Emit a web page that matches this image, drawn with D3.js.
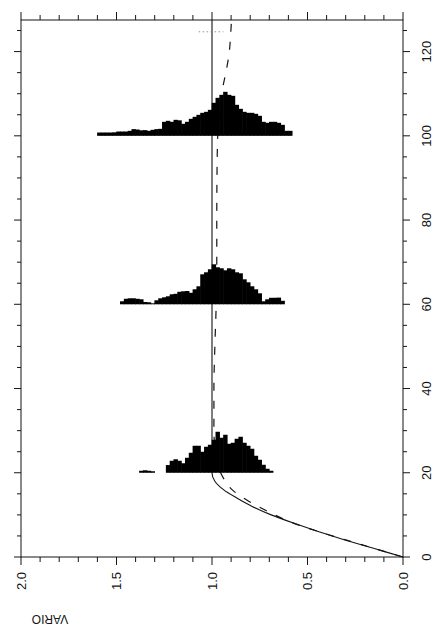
<!DOCTYPE html>
<html><head><meta charset="utf-8">
<script src="https://cdn.jsdelivr.net/npm/d3@7"></script>
<style>body{margin:0;background:#fff}svg{display:block}</style>
</head><body>
<svg id="c" width="445" height="629"></svg>
<script>
// ---- data ----
const lagTicks = [0, 20, 40, 60, 80, 100, 120];
const lagTickLabels = ["0", "20", "40", "60", "80", "100", "120"];
const varioTicks = [0.0, 0.5, 1.0, 1.5, 2.0];
const varioTickLabels = ["0.0", "0.5", "1.0", "1.5", "2.0"];

// model variogram (solid)
const modelLag   = [0, 2, 4, 6, 8, 10, 12, 14, 16, 18, 20, 127.5];
const modelVario = [0, 0.15, 0.30, 0.44, 0.57, 0.69, 0.79, 0.87, 0.94, 0.985, 1.0, 1.0];

// average / second curve (dashed)
const meanLag   = [0, 2, 4, 6, 7.1, 9, 11, 13.3, 16, 18, 20, 23, 26, 30, 40, 50, 60, 70, 80, 90, 100, 105, 110.7, 114.5, 119.3, 124.3, 127.5];
const meanVario = [0, 0.148, 0.295, 0.44, 0.515, 0.625, 0.715, 0.81, 0.895, 0.93, 0.955, 0.975, 0.985, 0.99, 0.99, 0.985, 0.978, 0.975, 0.975, 0.974, 0.97, 0.962, 0.947, 0.93, 0.911, 0.902, 0.898];

// short dotted mark near the top
const dotLag = 124.7;
const dotVario = [1.07, 0.94];

// histograms of variogram values at three lags (bin width 0.02, counts from low to high vario)
const histBinWidth = 0.02;
const hist20Lag = 20, hist20Start = 0.68;
const hist20Counts = [2, 4, 8, 13, 17, 24, 27, 30, 36, 34, 30, 29, 38, 35, 41, 33, 28, 26, 21, 27, 27, 20, 15, 9.5, 12, 13.5, 12, 7.7, 0, 0, 0, 1.5, 2, 2.5, 2];
const hist60Lag = 60, hist60Start = 0.62;
const hist60Counts = [3.5, 6.7, 6.5, 6.5, 5, 3, 11, 15, 18, 22, 25, 31, 32, 35, 36, 34, 36, 37, 40, 35, 32, 30, 18, 15, 11.5, 13.3, 13, 12.5, 10.5, 10, 8, 7, 6, 4, 1, 2, 2.3, 5, 5.5, 6, 6, 5.5, 3];
const hist100Lag = 100, hist100Start = 0.58;
const hist100Counts = [5, 5, 11, 13, 14, 14, 13, 14, 20, 22, 23, 23, 24, 27, 31, 40, 41, 44, 41, 38, 33, 26, 24, 23, 21, 19, 17, 14, 12, 15.5, 16, 14, 15, 14, 7, 6.7, 6, 5, 5.7, 5.5, 6.3, 6.7, 5, 4.3, 4.3, 4.3, 3.5, 3.3, 3.3, 3.3, 3.3];

// ---- drawing (chart drawn in normal orientation, then page rotated 90° CCW) ----
const W = 629, H = 445;
const svg = d3.select("#c");
const g = svg.append("g").attr("transform", `translate(0,${629}) rotate(-90)`);

const x = d3.scaleLinear().domain([0, 127.5]).range([72, 609]);   // lag
const y = d3.scaleLinear().domain([0, 2]).range([403, 21]);       // vario
const freq = d3.scaleLinear().domain([0, 50]).range([0, 50 / 4.212]); // count -> lag units

const ink = "#151515";
const font = "'Liberation Sans', Arial, sans-serif";

// frame
g.append("rect").attr("x", x(0)).attr("y", y(2)).attr("width", x(127.5) - x(0)).attr("height", y(0) - y(2))
  .attr("fill", "none").attr("stroke", ink).attr("stroke-width", 1);

// lag ticks (bottom & top of original frame)
const lagMinor = d3.range(0, 126, 5);
lagMinor.forEach(t => {
  const len = (t % 20 === 0) ? 7 : 4;
  g.append("line").attr("x1", x(t)).attr("x2", x(t)).attr("y1", y(0)).attr("y2", y(0) + len).attr("stroke", ink);
  g.append("line").attr("x1", x(t)).attr("x2", x(t)).attr("y1", y(2)).attr("y2", y(2) - len).attr("stroke", ink);
});
// vario ticks (left & right)
const varMinor = d3.range(0, 20.5, 1).map(k => k / 10);
varMinor.forEach((t, i) => {
  const len = (i % 5 === 0) ? 8 : 5;
  g.append("line").attr("y1", y(t)).attr("y2", y(t)).attr("x1", x(0)).attr("x2", x(0) - len).attr("stroke", ink);
  g.append("line").attr("y1", y(t)).attr("y2", y(t)).attr("x1", x(127.5)).attr("x2", x(127.5) + len).attr("stroke", ink);
});

// tick labels
g.selectAll("text.lag").data(lagTicks).enter().append("text")
  .attr("x", d => x(d)).attr("y", 431).attr("text-anchor", "middle")
  .attr("font-family", font).attr("font-size", 13).attr("fill", ink)
  .text((d, i) => lagTickLabels[i]);
g.selectAll("text.var").data(varioTicks).enter().append("text")
  .attr("x", 57).attr("y", d => y(d) + 4.6).attr("text-anchor", "end")
  .attr("font-family", font).attr("font-size", 13).attr("fill", ink)
  .text((d, i) => varioTickLabels[i]);

// axis title
g.append("text").attr("transform", "translate(14,50) rotate(-90)")
  .attr("text-anchor", "middle").attr("font-family", font).attr("font-size", 12).attr("fill", ink)
  .text("VARIO");

// curves
const line = d3.line().x(d => x(d[0])).y(d => y(d[1])).curve(d3.curveMonotoneX);
g.append("path").attr("d", line(modelLag.map((h, i) => [h, modelVario[i]])))
  .attr("fill", "none").attr("stroke", ink).attr("stroke-width", 1.1);
g.append("path").attr("d", line(meanLag.map((h, i) => [h, meanVario[i]])))
  .attr("fill", "none").attr("stroke", ink).attr("stroke-width", 1.2).attr("stroke-dasharray", "8,10");
g.append("line").attr("x1", x(dotLag)).attr("x2", x(dotLag)).attr("y1", y(dotVario[0])).attr("y2", y(dotVario[1]))
  .attr("stroke", "#777").attr("stroke-width", 0.8).attr("stroke-dasharray", "1.5,2.5");

// histograms
function drawHist(lag, start, counts) {
  counts.forEach((c, i) => {
    if (c <= 0) return;
    const g0 = start + i * histBinWidth, g1 = g0 + histBinWidth;
    g.append("rect")
      .attr("x", x(lag)).attr("width", x(lag + freq(c)) - x(lag))
      .attr("y", y(g1) - 0.3).attr("height", y(g0) - y(g1) + 0.6)
      .attr("fill", "#000");
  });
}
drawHist(hist20Lag, hist20Start, hist20Counts);
drawHist(hist60Lag, hist60Start, hist60Counts);
drawHist(hist100Lag, hist100Start, hist100Counts);
</script>
</body></html>
